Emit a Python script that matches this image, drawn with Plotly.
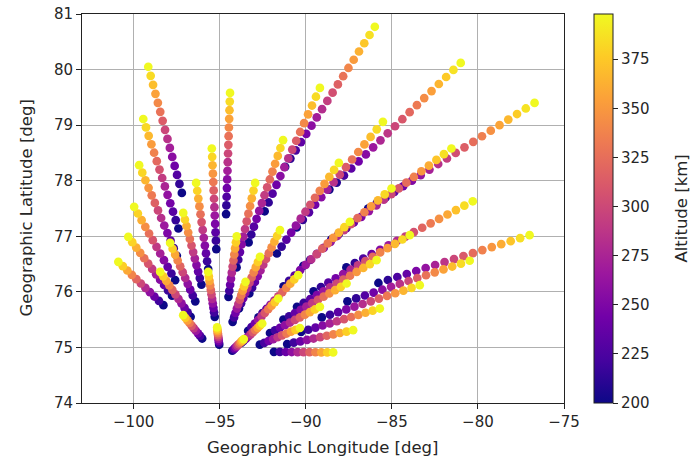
import numpy as np
import plotly.graph_objects as go

# Beam end points (far end = high altitude, near end = low altitude)
far_lon = [-99.15, -99.44, -99.68, -99.97, -100.31, -100.89,
           -94.40, -95.46, -96.37, -97.12, -97.88, -98.46, -97.12, -95.67, -95.15,
           -85.99, -89.18, -91.32, -92.94, -94.01,
           -81.00, -85.52, -88.08, -91.50, -92.66, -93.50,
           -76.71, -81.54, -85.02, -87.44, -90.44,
           -80.30, -77.00, -83.96, -85.89, -80.48, -83.38, -87.63, -89.18, -91.60,
           -85.70, -87.25, -90.34, -88.41, -92.53, -93.60]
far_lat = [80.05, 79.11, 78.28, 77.53, 76.99, 76.54,
           79.58, 78.58, 77.96, 77.42, 76.88, 76.36, 75.58, 76.36, 75.36,
           80.77, 79.67, 78.73, 77.96, 77.00,
           80.12, 79.06, 78.32, 77.11, 76.63, 76.18,
           79.40, 78.58, 77.86, 77.26, 76.30,
           77.63, 77.02, 77.02, 76.57, 76.56, 76.12, 76.15, 75.73, 75.88,
           75.70, 75.31, 75.35, 74.91, 75.43, 75.15]
near_lon = [-97.20, -97.40, -97.49, -97.59, -97.77, -98.27,
            -94.63, -95.20, -95.67, -96.06, -96.42, -96.69, -96.02, -95.29, -95.03,
            -91.20, -92.39, -93.32, -94.02, -94.49,
            -88.63, -90.53, -91.68, -93.28, -93.88, -94.25,
            -86.38, -88.52, -90.14, -91.29, -92.75,
            -87.64, -85.78, -89.55, -90.51, -87.58, -89.07, -91.30, -92.08, -93.35,
            -90.27, -91.08, -92.67, -91.85, -93.75, -94.27]
near_lat = [77.78, 77.14, 76.65, 76.21, 75.93, 75.76,
            77.40, 76.77, 76.41, 76.13, 75.83, 75.55, 75.16, 75.55, 75.05,
            78.25, 77.45, 76.89, 76.44, 75.91,
            77.84, 77.16, 76.69, 75.97, 75.70, 75.46,
            77.50, 76.94, 76.47, 76.10, 75.54,
            76.44, 76.16, 76.01, 75.73, 75.83, 75.54, 75.50, 75.26, 75.30,
            75.28, 75.06, 75.05, 74.92, 75.08, 74.94]
gates = [15, 14, 13, 12, 12, 11,
         15, 13, 12, 12, 11, 11, 10, 11, 10,
         18, 15, 14, 12, 11,
         19, 15, 14, 12, 11, 10,
         20, 17, 14, 13, 11,
         16, 17, 14, 13, 15, 13, 12, 11, 10,
         12, 11, 10, 11, 10, 10]
alt_near = 200.0
alt_far = 398.0

lons, lats, alts = [], [], []
for i in range(len(far_lon)):
    t = np.linspace(0.0, 1.0, gates[i])
    lons.extend(near_lon[i] + t * (far_lon[i] - near_lon[i]))
    lats.extend(near_lat[i] + t * (far_lat[i] - near_lat[i]))
    alts.extend(alt_near + t * (alt_far - alt_near))

tick_font = dict(family="DejaVu Sans", size=15, color="#262626")
label_font = dict(family="DejaVu Sans", size=16.5, color="#262626")

fig = go.Figure(go.Scatter(
    x=lons, y=lats, mode="markers",
    marker=dict(size=8.7, color=alts, colorscale="Plasma", cmin=200, cmax=398,
                line=dict(width=0),
                colorbar=dict(
                    thickness=19, thicknessmode="pixels", len=1, lenmode="fraction",
                    x=1.062, xanchor="left", y=0.5, yanchor="middle", xpad=0, ypad=0,
                    outlinewidth=1, outlinecolor="#222",
                    ticks="outside", ticklen=5, tickcolor="#222",
                    tickvals=[200, 225, 250, 275, 300, 325, 350, 375],
                    tickfont=tick_font,
                )),
    showlegend=False,
))

axis_common = dict(showgrid=True, gridcolor="#b0b0b0", gridwidth=1,
                   showline=True, linecolor="#222", linewidth=1, mirror=True,
                   ticks="outside", ticklen=5, tickcolor="#222", zeroline=False,
                   tickfont=tick_font, automargin=False)

W, H = 693, 463
ML, MR, MT, MB = 82, 129, 14, 60
PW, PH = W - ML - MR, H - MT - MB

fig.update_layout(
    width=W, height=H,
    margin=dict(l=ML, r=MR, t=MT, b=MB),
    paper_bgcolor="white", plot_bgcolor="white",
    font=tick_font,
    xaxis=dict(range=[-103, -75], tickvals=[-100, -95, -90, -85, -80, -75], **axis_common),
    yaxis=dict(range=[74, 81], tickvals=[74, 75, 76, 77, 78, 79, 80, 81], **axis_common),
    annotations=[
        dict(text="Geographic Longitude [deg]", xref="paper", yref="paper",
             x=0.5, y=-(447 - (MT + PH)) / PH, xanchor="center", yanchor="middle",
             showarrow=False, font=label_font),
        dict(text="Geographic Latitude [deg]", xref="paper", yref="paper",
             x=(26 - ML) / PW, y=0.5, xanchor="center", yanchor="middle",
             textangle=-90, showarrow=False, font=label_font),
        dict(text="Altitude [km]", xref="paper", yref="paper",
             x=(681 - ML) / PW, y=0.5, xanchor="center", yanchor="middle",
             textangle=-90, showarrow=False, font=label_font),
    ],
)

fig.write_html("out.html")
